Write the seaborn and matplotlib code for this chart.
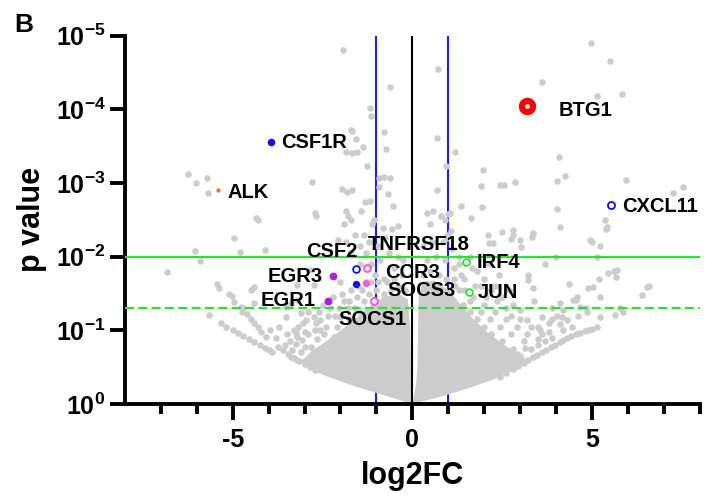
import numpy as np
import pandas as pd
import matplotlib
matplotlib.use("Agg")
import matplotlib.pyplot as plt
from matplotlib.ticker import NullLocator, FixedLocator
import seaborn as sns

# ---------------- data (log2FC, p) ----------------
genes = ["BTG1", "CSF1R", "ALK", "CXCL11", "CSF2", "TNFRSF18", "CCR3",
         "SOCS3", "SOCS1", "EGR3", "EGR1", "IRF4", "JUN"]
gene_log2fc = [3.19, -3.93, -5.42, 5.53, -1.56, -1.56, -1.25, -1.28, -1.08, -2.22, -2.36, 1.50, 1.58]
gene_p = [8.9e-5, 2.8e-4, 1.26e-3, 2.0e-3, 0.0149, 0.0235, 0.0142, 0.023, 0.040, 0.0185, 0.040, 0.0117, 0.030]

# background genes: (log2FC, -log10 p)
gray_top = [(-1.94, 4.81), (-0.61, 4.31), (0.72, 4.55), (-1.17, 4.02), (-1.14, 3.91), (-1.70, 3.72),
            (-1.58, 3.60), (-1.67, 3.71), (-1.85, 3.42), (-1.67, 3.41), (-1.36, 3.49), (-1.53, 3.42),
            (-0.78, 3.69), (-0.72, 3.46), (0.69, 3.61), (1.19, 3.42), (0.94, 3.23), (-1.25, 3.23),
            (-2.78, 3.02), (-0.94, 3.07), (-0.80, 3.08), (-0.61, 3.07), (-0.92, 2.95), (-0.67, 2.85),
            (-1.97, 2.92), (-1.83, 2.88), (-1.67, 2.90), (0.69, 2.90), (1.97, 3.18), (1.92, 2.96),
            (2.44, 2.97), (2.56, 2.97), (2.86, 3.02), (1.94, 2.68), (1.64, 2.53), (1.36, 2.69),
            (-1.17, 2.76), (-1.33, 2.74), (-1.44, 2.62), (-2.70, 2.60), (-2.67, 2.55), (-1.85, 2.62),
            (-1.78, 2.55), (-1.72, 2.50), (-1.90, 2.45), (-0.53, 2.69), (-1.08, 2.50), (-1.11, 2.45),
            (-0.81, 2.39), (-0.56, 2.38), (-0.39, 2.42), (0.42, 2.60), (0.58, 2.62), (0.80, 2.55),
            (0.92, 2.50), (0.50, 2.45), (1.00, 2.58), (1.06, 2.60), (1.08, 2.35), (0.97, 2.30),
            (0.97, 2.26), (2.10, 2.30), (2.14, 2.18), (2.50, 2.33), (2.80, 2.36), (2.25, 2.19)]
gray_far_left = [(-6.25, 3.12), (-6.03, 3.00), (-5.72, 3.07), (-5.69, 2.86), (-4.36, 2.53), (-4.30, 2.50),
                 (-4.97, 2.26), (-2.08, 2.23), (-6.06, 2.08), (-5.92, 1.94), (-4.81, 2.07), (-4.11, 2.09),
                 (-6.83, 1.79), (-5.44, 1.63), (-5.39, 1.58), (-5.11, 1.50), (-5.03, 1.46), (-4.50, 1.55),
                 (-4.42, 1.59), (-4.78, 1.32), (-4.75, 1.25), (-5.67, 1.21), (-5.33, 1.10), (-4.97, 1.39),
                 (-4.42, 1.37)]
gray_left_arcs = [(-5.19, 1.05), (-5.00, 1.00), (-4.85, 0.96), (-4.70, 0.92), (-4.55, 0.88), (-4.40, 0.84),
                  (-4.25, 0.80), (-4.10, 0.76), (-4.00, 0.73), (-3.90, 0.71), (-4.72, 1.30), (-4.60, 1.22),
                  (-4.50, 1.16), (-4.40, 1.10), (-4.30, 1.04), (-4.20, 0.98), (-4.08, 0.91),
                  (-3.60, 0.73), (-3.45, 0.68), (-3.30, 0.63), (-3.15, 0.58), (-3.00, 0.54), (-2.85, 0.50),
                  (-2.70, 0.46), (-3.75, 0.78), (-3.55, 0.80), (-3.35, 0.74), (-3.10, 0.70)]
gray_left_mid = [(-3.39, 0.64), (-3.20, 0.60), (-2.83, 0.56), (-3.20, 0.91), (-3.03, 1.10), (-2.75, 1.18),
                 (-2.56, 1.00), (-2.83, 0.77), (-2.47, 0.77), (-2.19, 0.91), (-2.28, 0.60), (-1.92, 0.64),
                 (-1.72, 1.00), (-1.53, 0.83), (-2.00, 1.18), (-3.11, 1.24), (-3.17, 1.05), (-2.97, 1.14),
                 (-2.69, 1.10), (-2.56, 1.14), (-3.53, 1.18), (-3.25, 0.96), (-3.06, 0.87), (-2.90, 0.95),
                 (-2.65, 0.88), (-2.40, 1.05), (-2.10, 1.05), (-1.85, 0.85), (-1.75, 1.15), (-1.55, 1.05),
                 (-1.45, 1.25), (-2.25, 0.75), (-2.60, 0.65), (-2.05, 0.50), (-1.90, 0.95), (-1.60, 1.30),
                 (-1.35, 1.40), (-2.35, 1.20), (-3.53, 1.32), (-3.39, 1.37), (-3.20, 1.62), (-2.83, 1.82),
                 (-2.75, 1.62), (-3.20, 1.41), (-2.50, 1.35), (-2.20, 1.45), (-1.90, 1.40), (-1.70, 1.55),
                 (-2.00, 1.65), (-1.50, 1.60), (-1.30, 1.65), (-3.40, 0.85), (-3.30, 1.00), (-3.00, 0.98),
                 (-2.70, 1.00), (-2.45, 0.95), (-2.90, 1.25), (-2.60, 1.25), (-2.30, 1.30), (-2.05, 1.30),
                 (-1.80, 1.30), (-2.15, 1.20), (-1.95, 1.50), (-1.75, 1.40), (-1.55, 1.45), (-1.40, 1.55),
                 (-1.15, 1.65), (-0.95, 1.65), (-0.70, 1.65), (-0.50, 1.70), (-3.00, 0.78), (-3.25, 0.82),
                 (-3.50, 0.95), (-3.70, 1.05), (-3.80, 0.90), (-3.95, 1.00)]
gray_center_upper = [(-1.20, 1.50), (-1.00, 1.55), (-0.80, 1.50), (-0.60, 1.55), (-0.40, 1.60), (-0.30, 1.75),
                     (-0.50, 1.85), (-0.80, 1.70), (-1.05, 1.75), (-1.15, 1.90), (-0.90, 1.95), (-0.65, 2.05),
                     (-0.40, 2.00), (-1.30, 2.05), (-1.45, 1.90), (-1.20, 2.20), (-0.95, 2.15), (-0.75, 2.25),
                     (-1.45, 2.15), (-1.60, 2.30), (-1.35, 2.30), (-0.20, 1.55), (-0.25, 1.95), (-1.70, 2.05),
                     (-1.85, 2.20), (0.30, 1.75), (0.50, 1.80), (0.75, 1.75), (0.95, 1.70), (1.20, 1.60),
                     (0.40, 1.95), (0.65, 2.00), (0.90, 1.95), (1.15, 1.85), (1.35, 1.75), (0.55, 2.20),
                     (0.85, 2.20), (1.10, 2.10), (1.30, 2.00), (0.30, 2.15), (1.45, 1.55)]
gray_right_mid = [(1.40, 1.35), (1.60, 1.25), (1.80, 1.15), (2.00, 1.05), (2.20, 0.95), (2.50, 0.85),
                  (2.80, 0.75), (3.00, 0.65), (1.70, 1.45), (2.00, 1.35), (2.30, 1.25), (2.60, 1.15),
                  (2.90, 1.05), (3.20, 0.95), (1.90, 1.60), (2.20, 1.55), (2.50, 1.45), (2.80, 1.35),
                  (3.00, 1.28), (3.19, 1.14), (3.61, 1.18), (3.22, 1.68), (3.36, 1.58), (2.30, 0.75),
                  (2.60, 0.65), (2.00, 0.85), (1.50, 1.05), (2.40, 1.75), (1.80, 1.80), (2.10, 1.90),
                  (1.60, 2.00), (2.70, 1.55), (3.40, 1.40), (3.50, 1.05), (3.80, 1.10), (3.30, 0.75),
                  (3.50, 0.80), (3.10, 0.85), (2.75, 0.95), (2.45, 1.05), (2.15, 1.15), (1.90, 1.25),
                  (1.60, 1.40), (1.30, 1.55), (1.15, 1.70), (2.60, 1.30), (2.35, 1.40), (2.05, 1.45),
                  (1.75, 1.60), (1.45, 1.70), (3.30, 1.05), (3.00, 1.15), (2.75, 1.20), (2.30, 1.60),
                  (2.00, 1.70), (1.65, 1.85), (1.30, 1.90), (3.70, 0.85), (3.90, 0.90), (4.20, 1.00),
                  (4.45, 1.05), (3.60, 0.95)]
gray_right_arcs = [(2.44, 0.37), (2.62, 0.42), (2.80, 0.47), (2.95, 0.52), (3.10, 0.56), (3.23, 0.60),
                   (3.36, 0.64), (3.48, 0.67), (3.60, 0.70), (3.72, 0.74), (3.85, 0.77), (3.97, 0.80),
                   (4.10, 0.84), (4.20, 0.87), (4.31, 0.90), (4.43, 0.92), (4.55, 0.95), (4.68, 0.97),
                   (4.80, 0.99), (4.90, 1.01), (5.00, 1.02), (5.14, 1.04), (2.64, 0.60), (2.90, 0.68),
                   (3.15, 0.76), (3.50, 0.88), (3.80, 0.98), (4.10, 1.08), (4.30, 1.14), (4.60, 1.20),
                   (4.86, 1.25), (5.22, 1.18), (5.64, 1.21), (5.78, 1.30), (3.56, 1.00), (3.90, 1.15),
                   (4.20, 1.28), (4.58, 1.45), (4.90, 1.58), (5.20, 1.70), (5.45, 1.78), (5.69, 1.82)]
gray_far_right = [(4.97, 4.90), (5.50, 4.66), (3.61, 4.37), (5.14, 4.18), (5.83, 4.21), (4.08, 3.36),
                  (4.25, 3.10), (4.03, 3.03), (5.94, 3.04), (4.03, 2.65), (7.53, 2.95), (7.25, 2.87),
                  (5.36, 2.50), (5.39, 2.38), (2.80, 2.30), (2.75, 2.24), (3.33, 2.27), (5.00, 2.20),
                  (5.22, 2.14), (3.03, 2.13), (5.14, 2.00), (6.58, 1.60), (6.39, 1.48), (4.36, 1.63),
                  (3.22, 1.75), (4.56, 1.41), (4.83, 1.30), (5.86, 1.25), (3.90, 1.30), (4.03, 1.19),
                  (4.17, 1.18), (5.60, 1.80), (5.67, 1.72), (4.11, 1.37), (4.47, 1.41), (4.67, 1.32),
                  (5.03, 1.59), (5.22, 1.45), (6.53, 1.59), (3.00, 2.23), (3.36, 2.32), (4.11, 2.40),
                  (4.94, 2.23), (5.42, 2.40), (3.70, 1.90), (4.00, 2.00)]

# outlines of the saturated (overplotted) core of the cloud: (log2FC, -log10 p)
core_left = [(0.0, 0.0), (-0.8, 0.12), (-1.6, 0.24), (-2.3, 0.36), (-2.9, 0.48), (-3.1, 0.58),
             (-2.8, 0.72), (-2.4, 0.85), (-2.0, 1.0), (-1.6, 1.15), (-1.2, 1.32), (-0.8, 1.45),
             (-0.4, 1.5), (-0.12, 1.42), (-0.06, 1.0), (-0.04, 0.4)]
core_right = [(0.0, 0.0), (0.8, 0.1), (1.6, 0.22), (2.4, 0.36), (3.0, 0.5), (3.2, 0.6),
              (2.9, 0.7), (2.5, 0.82), (2.1, 0.97), (1.7, 1.15), (1.35, 1.35), (1.0, 1.55),
              (0.6, 1.68), (0.3, 1.66), (0.18, 1.5), (0.14, 0.5), (0.1, 0.25)]

# ---------------- styling ----------------
sns.set_theme(style="white")
plt.rcParams["font.family"] = ["Liberation Sans", "DejaVu Sans"]
plt.rcParams["mathtext.fontset"] = "custom"
plt.rcParams["mathtext.rm"] = "Liberation Sans:bold"
plt.rcParams["mathtext.bf"] = "Liberation Sans:bold"
for k in ("text.color", "axes.labelcolor", "xtick.color", "ytick.color"):
    plt.rcParams[k] = "black"

GRAY = "#cccccc"
gene_face = ["white", "#1010ee", "#ff6a13", "white", "white", "#1010ee", "white", "#f060d0",
             "white", "#b020e0", "#b020e0", "white", "white"]
gene_edge = ["#ff0000", "#1010ee", "#ff6a13", "#1010ee", "#1010ee", "#1010ee", "#f060d0", "#f060d0",
             "#f060d0", "#b020e0", "#b020e0", "#33dd33", "#33dd33"]
gene_size = [64, 30, 9, 26, 24, 28, 24, 28, 24, 32, 32, 24, 24]
gene_lw = [4.5, 0, 0, 1.3, 1.3, 0, 1.5, 0, 1.5, 0, 0, 1.3, 1.3]

# label anchor positions (log2FC, p) and alignment
label_pos = [(4.06, 1.02e-4, "left"), (-3.64, 2.8e-4, "left"), (-5.14, 1.35e-3, "left"),
             (5.83, 2.1e-3, "left"), (-1.53, 8.5e-3, "right"), (0.17, 6.8e-3, "center"),
             (-0.75, 0.0166, "left"), (-0.69, 0.0288, "left"), (-2.06, 0.0708, "left"),
             (-2.50, 0.0186, "right"), (-2.69, 0.0398, "right"), (1.78, 0.012, "left"),
             (1.83, 0.031, "left")]

fig = plt.figure(figsize=(7.14, 5.01), dpi=100)
ax = fig.add_axes([0.175, 0.1936, 0.805, 0.735])

bg = gray_top + gray_far_left + gray_left_arcs + gray_left_mid + gray_center_upper + \
     gray_right_mid + gray_right_arcs + gray_far_right
bg_df = pd.DataFrame(bg, columns=["log2FC", "nlp"])
bg_df["p"] = 10.0 ** (-bg_df["nlp"])

for core in (core_left, core_right):
    cx = [c[0] for c in core]
    cp = [10.0 ** (-c[1]) for c in core]
    ax.fill(cx, cp, color=GRAY, lw=0, zorder=2)

sns.scatterplot(data=bg_df, x="log2FC", y="p", color=GRAY, s=22, linewidth=0, ax=ax, zorder=2, legend=False)

ax.axvline(-1, color="#1a1aff", lw=1.5, zorder=1)
ax.axvline(1, color="#1a1aff", lw=1.5, zorder=1)
ax.axvline(0, color="black", lw=1.5, zorder=3)
ax.axhline(0.01, color="#33dd33", lw=1.6, zorder=3)
ax.axhline(0.05, color="#33dd33", lw=1.6, ls=(0, (4, 2)), zorder=3)

gdf = pd.DataFrame({"gene": genes, "log2FC": gene_log2fc, "p": gene_p})
for i, row in gdf.iterrows():
    sns.scatterplot(x=[row["log2FC"]], y=[row["p"]], ax=ax, s=gene_size[i],
                    facecolor=gene_face[i], edgecolor=gene_edge[i], linewidth=gene_lw[i],
                    zorder=4, legend=False)

for g, (lx, lp, ha) in zip(genes, label_pos):
    ax.text(lx, lp, g, fontsize=14.5, fontweight="bold", ha=ha, va="center", zorder=5, color="black")

ax.set_xlim(-8, 8)
ax.set_yscale("log")
ax.set_ylim(1, 1e-5)

ax.xaxis.set_major_locator(FixedLocator([-5, 0, 5]))
ax.xaxis.set_minor_locator(FixedLocator([-7, -6, -4, -3, -2, -1, 1, 2, 3, 4, 6, 7, 8]))
ax.set_xticklabels(["-5", "0", "5"], fontweight="bold")
yt = [1e-5, 1e-4, 1e-3, 1e-2, 1e-1, 1]
ax.yaxis.set_major_locator(FixedLocator(yt))
ax.yaxis.set_minor_locator(NullLocator())
ax.set_yticklabels([r"$\mathbf{10^{-5}}$", r"$\mathbf{10^{-4}}$", r"$\mathbf{10^{-3}}$",
                    r"$\mathbf{10^{-2}}$", r"$\mathbf{10^{-1}}$", r"$\mathbf{10^{0}}$"])

ax.tick_params(axis="x", which="major", direction="out", length=11.5, width=2.8, pad=6, labelsize=18,
               bottom=True, color="black", labelcolor="black")
ax.tick_params(axis="x", which="minor", direction="out", length=7, width=2.8, bottom=True, color="black")
ax.tick_params(axis="y", which="major", direction="out", length=11, width=2.8, pad=3, labelsize=18,
               left=True, color="black", labelcolor="black")

for s in ("top", "right"):
    ax.spines[s].set_visible(False)
for s in ("left", "bottom"):
    ax.spines[s].set_linewidth(2.8)
    ax.spines[s].set_color("black")

ax.set_xlabel("log2FC", fontsize=22, fontweight="bold", color="black")
ax.set_ylabel("p value", fontsize=22, fontweight="bold", color="black")
ax.xaxis.set_label_coords(0.5, -0.155)
ax.yaxis.set_label_coords(-0.135, 0.5)

fig.text(0.02, 0.975, "B", fontsize=19, fontweight="bold", ha="left", va="top", color="black")

fig.savefig("out.png", dpi=100)
